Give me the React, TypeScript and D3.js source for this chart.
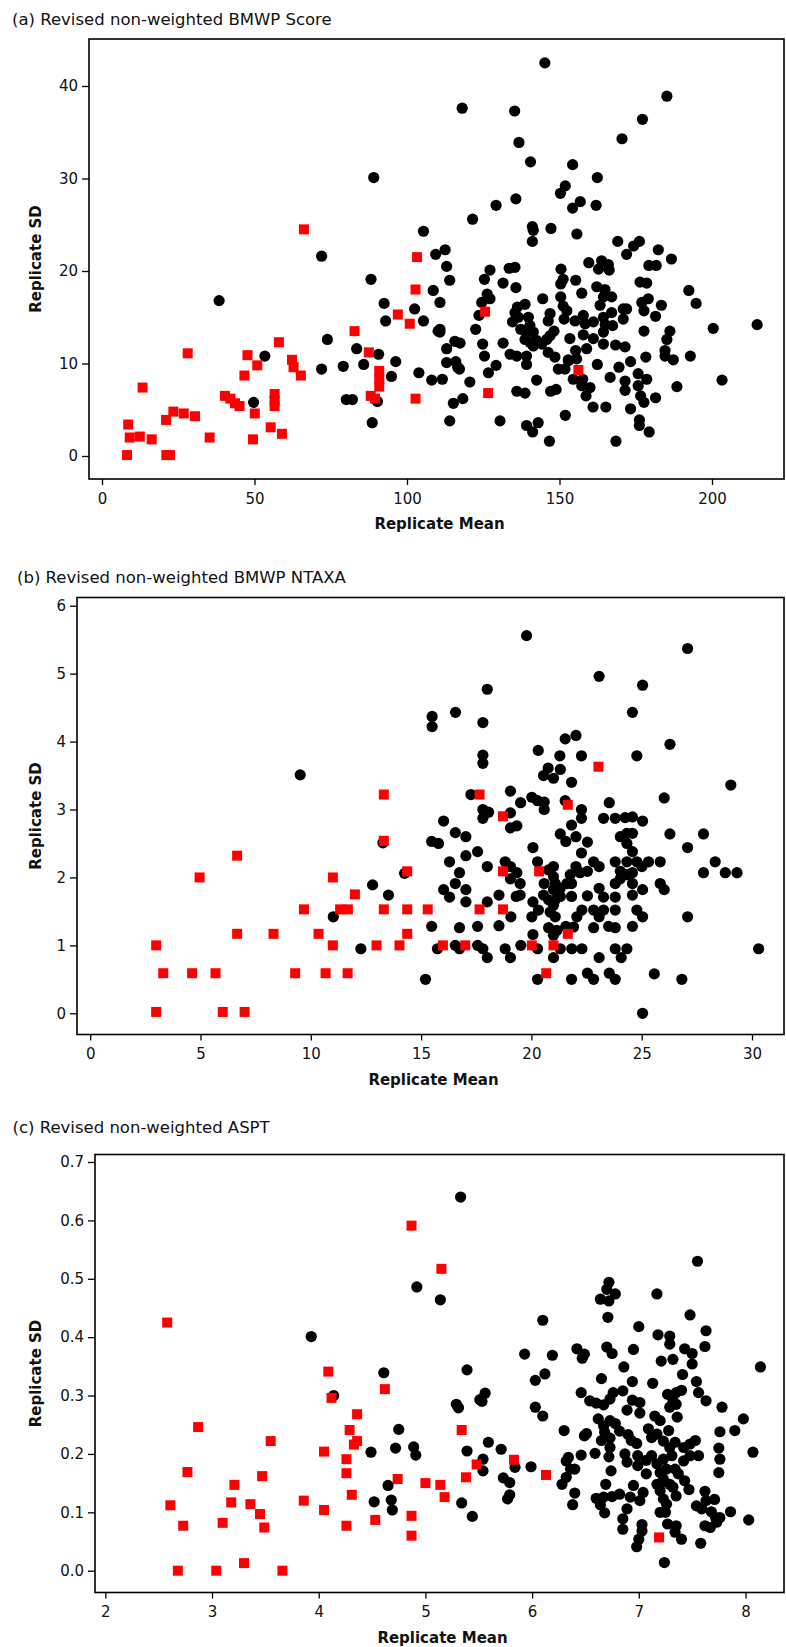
// @ts-nocheck
import React, { useEffect, useRef } from 'react'
import * as d3 from 'd3'

// ---- (a) BMWP score: [replicate mean, replicate SD]
const scoreRed = [
  [66.2, 24.5], [103.3, 21.5], [102.8, 18.0], [97.0, 15.3], [100.9, 14.3], [82.8, 13.5], [87.5, 11.2],
  [58.0, 12.3], [28.1, 11.1], [47.7, 10.9], [50.9, 9.8], [46.7, 8.7], [62.3, 10.4], [62.8, 9.6],
  [65.2, 8.7], [90.9, 9.2], [90.9, 8.3], [90.9, 7.5], [88.1, 6.5], [89.5, 6.2], [102.8, 6.2],
  [13.3, 7.4], [40.3, 6.5], [42.1, 6.2], [43.6, 5.7], [45.1, 5.4], [56.6, 6.7], [56.6, 6.0],
  [56.6, 5.4], [50.1, 4.6], [23.4, 4.8], [26.8, 4.6], [30.5, 4.3], [21.0, 3.9], [8.6, 3.4],
  [9.1, 2.0], [12.4, 2.1], [16.3, 1.8], [35.3, 2.0], [49.5, 1.8], [55.3, 3.1], [59.0, 2.4],
  [8.2, 0.1], [21.1, 0.1], [22.3, 0.1], [125.6, 15.6], [156.2, 9.3], [126.6, 6.8],
]
const scoreBlack = [
  [89.1, 30.1], [105.4, 24.3], [72.0, 21.6], [109.4, 21.8], [88.2, 19.1], [108.6, 17.9], [110.8, 16.6],
  [38.4, 16.8], [92.5, 16.5], [102.5, 15.9], [93.0, 14.6], [105.4, 14.6], [110.2, 13.5], [73.9, 12.6],
  [83.5, 11.6], [90.7, 11.0], [53.4, 10.8], [96.3, 10.2], [72.0, 9.4], [79.1, 9.7], [85.8, 9.9],
  [94.9, 8.6], [103.9, 9.0], [108.1, 8.2], [49.7, 5.8], [80.1, 6.1], [82.1, 6.1], [90.3, 5.9], [88.6, 3.6],
  [145.2, 42.5], [118.1, 37.6], [135.3, 37.3], [185.2, 38.9], [177.2, 36.4], [170.5, 34.3], [136.7, 33.9],
  [140.5, 31.8], [154.3, 31.5], [162.4, 30.1], [151.9, 29.2], [150.3, 28.4], [156.8, 27.5], [154.3, 26.8],
  [162.0, 27.1], [129.2, 27.1], [135.7, 27.8], [121.5, 25.6], [141.1, 24.8], [141.4, 24.4], [147.2, 24.6],
  [155.7, 24.0], [141.1, 23.2], [169.1, 23.2], [174.3, 22.7], [176.2, 23.2], [172.0, 21.8], [182.4, 22.3],
  [186.7, 21.3], [112.5, 22.3], [113.0, 20.5], [114.0, 19.0],
  [127.2, 20.1], [125.4, 19.1], [133.5, 20.3], [135.4, 20.4], [131.5, 18.7], [135.7, 18.2], [126.3, 17.5],
  [127.2, 17.0], [124.5, 16.6], [123.6, 15.2], [122.5, 13.7], [110.8, 13.7], [110.8, 13.4], [113.0, 11.6],
  [115.7, 12.4], [117.4, 12.2], [113.0, 10.1], [116.0, 10.2], [116.6, 9.6], [117.2, 9.4], [124.8, 12.1],
  [125.4, 10.8], [131.5, 12.2], [129.2, 9.8], [126.7, 9.0], [111.6, 8.3], [120.6, 8.0], [118.3, 6.2],
  [115.2, 5.7], [114.0, 3.8], [130.5, 3.8], [136.0, 7.0], [138.7, 6.8], [142.5, 8.2], [147.1, 7.0],
  [148.9, 7.2], [139.2, 3.3], [141.2, 2.6], [143.0, 3.6], [146.7, 1.6], [151.9, 4.4], [168.5, 1.6],
  [161.0, 5.3], [165.2, 5.3], [158.7, 6.5], [160.0, 7.4], [157.3, 7.6], [154.5, 8.3], [157.6, 8.3],
  [149.6, 9.4], [151.8, 9.4], [152.9, 10.4], [155.3, 11.4], [158.9, 11.6], [162.4, 9.9],
  [166.6, 8.5], [171.5, 8.1], [171.5, 7.1], [175.8, 8.9], [178.6, 8.3], [175.8, 7.6], [176.6, 6.5],
  [177.7, 5.8], [181.5, 6.3], [173.3, 5.1], [176.2, 3.9], [176.2, 3.3], [179.4, 2.6], [188.5, 7.5],
  [203.3, 8.2], [169.5, 9.6], [173.3, 10.2], [178.3, 10.7], [184.6, 11.4], [184.6, 10.8], [187.3, 10.4],
  [192.9, 10.8], [185.2, 12.6], [186.2, 13.5], [200.4, 13.8], [214.8, 14.2], [194.8, 16.5], [192.4, 17.9],
  [183.4, 16.3], [181.5, 15.1], [177.7, 13.5], [177.7, 15.7], [177.0, 16.6], [179.1, 17.0], [176.4, 18.8],
  [178.6, 18.7], [179.3, 20.6], [181.7, 20.6],
  [162.2, 18.3], [164.9, 18.0], [167.1, 17.2], [164.4, 17.2], [163.3, 16.3], [159.6, 20.9], [163.8, 21.1],
  [166.0, 20.7], [162.8, 20.2], [166.3, 20.1], [150.5, 20.2], [151.2, 19.1], [150.4, 18.6], [155.3, 19.0],
  [157.3, 17.6], [150.4, 17.2], [151.2, 16.2], [152.4, 15.7], [151.5, 14.8], [155.1, 14.6], [157.8, 15.2],
  [158.4, 14.3], [161.1, 14.5], [164.4, 15.0], [167.1, 15.5], [170.9, 15.9], [172.0, 15.9], [170.9, 14.8],
  [167.4, 14.1], [164.4, 13.4], [165.0, 14.2],
  [138.7, 16.4], [136.2, 16.1], [135.4, 15.5], [136.5, 15.0], [139.8, 15.0], [134.6, 14.5], [137.3, 13.7],
  [140.3, 14.1], [139.2, 13.4], [141.4, 13.4], [138.7, 12.6], [140.3, 12.3], [142.5, 12.5], [144.2, 12.1],
  [145.8, 12.6], [146.9, 13.0], [148.2, 13.5], [146.3, 14.6], [146.9, 15.4], [144.5, 17.0], [141.4, 11.9],
  [133.8, 11.0], [136.0, 10.8], [139.2, 10.8], [139.2, 9.9], [146.3, 11.2], [148.5, 10.7], [152.9, 10.3],
  [153.4, 12.7], [157.8, 13.1], [161.1, 12.7], [164.4, 12.1], [168.4, 12.0], [171.5, 11.8], [155.6, 10.5],
]

// ---- (b) BMWP NTAXA
const ntaxaRed = [
  [2.99, 0.02], [2.99, 1.0], [3.31, 0.59], [4.62, 0.59], [5.68, 0.59], [4.96, 2.0], [6.66, 2.32],
  [6.66, 1.17], [6.01, 0.02], [7.0, 0.02], [8.31, 1.17], [9.29, 0.59], [9.69, 1.53], [10.35, 1.17],
  [10.67, 0.59], [11.0, 2.0], [11.0, 1.0], [11.33, 1.53], [11.68, 1.53], [11.67, 0.59], [12.0, 1.75],
  [13.31, 3.22], [13.31, 2.54], [13.31, 1.53], [12.98, 1.0], [14.02, 1.0], [14.37, 2.09], [14.37, 1.53],
  [14.37, 1.17], [15.3, 1.53], [17.65, 3.22], [18.71, 2.9], [21.65, 3.07], [23.04, 3.63], [18.71, 2.09],
  [20.35, 2.09], [17.65, 1.53], [18.71, 1.53], [21.65, 1.17], [15.99, 1.0], [17.0, 1.0], [20.02, 1.0],
  [21.0, 1.0], [20.67, 0.59],
]
const ntaxaBlack = [
  [9.52, 3.51], [13.27, 2.51], [14.25, 2.06], [12.8, 1.89], [13.52, 1.74], [11.02, 1.42], [12.27, 0.95],
  [15.2, 0.5], [19.78, 5.56], [27.08, 5.37], [23.07, 4.96], [25.04, 4.83], [18.0, 4.77], [15.5, 4.37],
  [15.5, 4.22], [16.56, 4.43], [17.8, 4.28], [24.58, 4.43], [21.53, 4.04], [22.02, 4.09], [26.28, 3.96],
  [20.31, 3.87], [21.29, 3.79], [22.27, 3.79], [24.78, 3.79], [17.8, 3.8], [17.8, 3.68], [20.76, 3.61],
  [21.31, 3.59], [20.55, 3.5], [21.0, 3.46], [21.82, 3.4], [29.04, 3.36], [17.26, 3.22], [19.05, 3.27],
  [19.51, 3.1], [20.02, 3.18], [20.28, 3.13], [20.58, 3.11], [20.58, 3.0], [21.53, 3.13], [23.53, 3.1],
  [26.02, 3.17], [22.27, 3.0], [22.27, 2.87], [17.8, 3.0], [18.06, 2.96], [17.8, 2.87], [19.05, 2.95],
  [23.27, 2.87], [23.8, 2.87], [24.25, 2.88], [24.58, 2.89], [25.04, 2.83], [16.02, 2.83], [19.05, 2.73],
  [19.34, 2.76], [21.82, 2.77], [21.31, 2.64], [21.56, 2.53], [22.02, 2.6], [22.54, 2.52], [24.03, 2.6],
  [24.33, 2.65], [24.58, 2.65], [24.33, 2.5], [24.58, 2.38], [26.28, 2.64], [27.8, 2.64], [27.08, 2.44],
  [16.55, 2.66], [17.03, 2.6], [15.48, 2.53], [15.79, 2.5], [17.56, 2.38], [17.03, 2.32], [20.07, 2.44],
  [22.27, 2.36], [16.29, 2.23], [18.0, 2.16], [18.81, 2.23], [19.05, 2.16], [19.34, 2.07], [19.05, 1.98],
  [19.49, 1.91], [20.28, 2.23], [21.0, 2.16], [22.02, 2.16], [22.82, 2.23], [23.07, 2.16], [23.8, 2.23],
  [24.33, 2.23], [24.78, 2.23], [25.31, 2.23], [25.84, 2.23], [20.78, 2.11], [21.0, 2.01], [21.76, 2.04],
  [22.21, 2.07], [22.54, 2.09], [24.03, 2.09], [24.33, 2.04], [24.58, 2.07], [24.03, 1.98], [25.01, 2.16],
  [16.74, 2.07], [16.55, 1.91], [17.03, 1.82], [16.02, 1.82], [16.29, 1.71], [20.58, 1.91], [21.08, 1.91],
  [21.61, 1.91], [21.82, 1.91], [21.31, 1.84], [21.0, 1.82], [23.8, 1.91], [24.58, 1.91], [25.04, 1.82],
  [25.84, 1.91], [26.02, 1.82], [23.07, 1.84], [23.27, 1.71], [23.8, 1.71], [22.54, 1.73], [21.82, 1.72],
  [24.58, 1.74], [20.55, 1.74], [20.78, 1.67], [21.08, 1.67], [21.31, 1.72], [21.0, 1.59], [19.31, 1.72],
  [19.49, 1.74], [18.53, 1.74], [18.0, 1.64], [17.03, 1.64], [20.07, 1.64], [20.32, 1.52], [20.02, 1.42],
  [20.85, 1.49], [21.08, 1.42], [22.06, 1.42], [22.29, 1.52], [22.82, 1.52], [23.07, 1.42], [23.27, 1.52],
  [23.8, 1.52], [24.78, 1.52], [25.04, 1.42], [19.07, 1.42], [27.08, 1.42], [15.48, 1.28], [16.74, 1.26],
  [17.56, 1.28], [18.53, 1.29], [20.78, 1.26], [21.15, 1.22], [21.56, 1.28], [21.91, 1.27], [21.0, 1.15],
  [22.82, 1.26], [23.5, 1.28], [23.8, 1.26], [24.58, 1.28], [20.07, 1.16], [15.74, 0.95], [16.55, 1.0],
  [16.74, 0.95], [17.56, 1.0], [17.8, 0.95], [18.0, 0.82], [18.81, 0.95], [19.05, 0.82], [19.52, 1.0],
  [20.28, 0.95], [21.0, 0.82], [21.31, 0.95], [21.83, 0.95], [22.29, 0.95], [23.07, 0.82], [23.8, 0.95],
  [24.07, 0.82], [24.33, 0.95], [30.3, 0.95], [20.28, 0.5], [21.82, 0.5], [22.54, 0.59], [22.82, 0.5],
  [23.53, 0.59], [23.8, 0.5], [25.57, 0.58], [26.82, 0.5], [25.04, 0.0], [28.33, 2.23], [27.8, 2.07],
  [28.79, 2.07], [29.32, 2.07],
]

// ---- (c) ASPT
const asptRed = [
  [2.58, 0.425], [4.87, 0.591], [5.15, 0.517], [4.09, 0.341], [4.12, 0.296], [4.62, 0.311], [4.36, 0.268],
  [4.29, 0.241], [4.36, 0.222], [4.33, 0.216], [4.05, 0.204], [4.26, 0.191], [4.26, 0.167], [4.31, 0.13],
  [4.05, 0.104], [4.26, 0.077], [3.86, 0.12], [4.53, 0.087], [4.74, 0.157], [4.87, 0.094], [4.87, 0.06],
  [5.0, 0.15], [5.14, 0.147], [5.18, 0.126], [2.87, 0.246], [2.77, 0.169], [2.61, 0.112], [2.73, 0.077],
  [3.55, 0.222], [3.47, 0.162], [3.21, 0.147], [3.18, 0.117], [3.36, 0.114], [3.45, 0.097], [3.49, 0.074],
  [3.1, 0.082], [3.04, 0], [3.3, 0.013], [3.66, 0], [2.68, 0], [5.34, 0.241], [5.48, 0.182], [5.38, 0.16],
  [5.83, 0.19], [6.13, 0.164], [7.19, 0.057],
]
const asptBlack = [
  [3.93, 0.401], [4.92, 0.486], [5.14, 0.464], [4.61, 0.339], [4.14, 0.3], [4.75, 0.242], [4.72, 0.21],
  [4.89, 0.212], [4.91, 0.198], [4.49, 0.203], [4.65, 0.146], [4.52, 0.118], [4.68, 0.121], [4.69, 0.104],
  [5.33, 0.64], [7.55, 0.53], [6.72, 0.494], [6.7, 0.482], [6.78, 0.474], [6.64, 0.465], [6.72, 0.462],
  [6.71, 0.434], [7.17, 0.474], [7.48, 0.438], [7.63, 0.411], [7.0, 0.418], [7.18, 0.404], [7.29, 0.402],
  [7.29, 0.388], [7.62, 0.384], [6.1, 0.429], [5.93, 0.371], [6.19, 0.369], [6.42, 0.38], [6.49, 0.371],
  [6.47, 0.364], [6.7, 0.383], [6.75, 0.372], [6.95, 0.379], [6.86, 0.349], [7.21, 0.359], [7.32, 0.362],
  [7.43, 0.38], [7.5, 0.372], [7.5, 0.354], [5.39, 0.344], [6.12, 0.337], [6.03, 0.326], [6.65, 0.329],
  [6.94, 0.324], [7.13, 0.321], [7.41, 0.336], [7.54, 0.324], [8.14, 0.349], [5.56, 0.304], [5.51, 0.293],
  [5.53, 0.29], [5.29, 0.285], [5.31, 0.279], [6.03, 0.28], [6.1, 0.265], [6.46, 0.305], [6.54, 0.291],
  [6.6, 0.287], [6.67, 0.284], [6.73, 0.294], [6.76, 0.305], [6.85, 0.308], [6.94, 0.292], [7.01, 0.288],
  [6.89, 0.275], [7.01, 0.27], [7.27, 0.302], [7.35, 0.305], [7.32, 0.291], [7.29, 0.28], [7.35, 0.285],
  [7.4, 0.309], [7.56, 0.305], [7.63, 0.291], [7.78, 0.28], [7.36, 0.263], [7.15, 0.265], [7.2, 0.257],
  [7.98, 0.26], [7.9, 0.24], [7.76, 0.238], [6.3, 0.24], [6.49, 0.231], [6.51, 0.235], [6.62, 0.26],
  [6.67, 0.248], [6.73, 0.257], [6.78, 0.252], [6.68, 0.237], [6.73, 0.227], [6.65, 0.223], [6.82, 0.239],
  [6.9, 0.233], [6.93, 0.223], [6.98, 0.218], [7.09, 0.243], [7.12, 0.228], [7.17, 0.234], [7.23, 0.222],
  [7.28, 0.24], [7.34, 0.22], [7.29, 0.211], [7.42, 0.211], [7.48, 0.217], [7.53, 0.223], [7.48, 0.197],
  [7.56, 0.197], [7.75, 0.21], [7.76, 0.191], [7.75, 0.168], [8.07, 0.203], [5.39, 0.205], [5.59, 0.22],
  [5.71, 0.208], [5.54, 0.191], [5.54, 0.171], [5.84, 0.177], [5.99, 0.178], [5.73, 0.159], [5.79, 0.151],
  [5.79, 0.13], [5.77, 0.123], [5.34, 0.116], [5.44, 0.093], [6.46, 0.198], [6.59, 0.201], [6.34, 0.194],
  [6.32, 0.188], [6.36, 0.174], [6.4, 0.174], [6.32, 0.16], [6.28, 0.148], [6.4, 0.133], [6.38, 0.113],
  [6.73, 0.211], [6.72, 0.195], [6.74, 0.171], [6.69, 0.148], [6.87, 0.2], [6.89, 0.186], [6.99, 0.197],
  [6.99, 0.18], [7.07, 0.189], [7.12, 0.197], [7.17, 0.183], [7.23, 0.191], [7.26, 0.174], [7.2, 0.168],
  [7.34, 0.174], [7.37, 0.166], [7.31, 0.197], [7.42, 0.188], [7.07, 0.166], [7.23, 0.157], [7.29, 0.148],
  [7.43, 0.154], [7.2, 0.148], [6.95, 0.146], [7.04, 0.134], [7.01, 0.12], [6.92, 0.126], [6.82, 0.131],
  [6.75, 0.127], [6.67, 0.126], [6.6, 0.124], [6.64, 0.113], [6.68, 0.099], [6.89, 0.106], [6.85, 0.089],
  [6.85, 0.071], [7.17, 0.148], [7.2, 0.137], [7.23, 0.123], [7.26, 0.114], [7.25, 0.1], [7.2, 0.1],
  [7.32, 0.143], [7.35, 0.128], [7.47, 0.139], [7.62, 0.136], [7.63, 0.12], [7.71, 0.122], [7.54, 0.111],
  [7.59, 0.106], [7.68, 0.101], [7.72, 0.091], [7.76, 0.091], [7.73, 0.083], [7.62, 0.077], [7.67, 0.074],
  [7.86, 0.101], [8.03, 0.087], [7.27, 0.08], [7.35, 0.077], [7.34, 0.066], [7.4, 0.054], [7.03, 0.079],
  [7.03, 0.068], [7.0, 0.054], [6.98, 0.041], [7.58, 0.047], [7.24, 0.014],
]

// tick labels
const scoreXTicks = [0, 50, 100, 150, 200]
const scoreYTicks = [0, 10, 20, 30, 40]
const ntaxaXTicks = [0, 5, 10, 15, 20, 25, 30]
const ntaxaYTicks = [0, 1, 2, 3, 4, 5, 6]
const asptXTicks = [2, 3, 4, 5, 6, 7, 8]
const asptYTicks = [0, 0.1, 0.2, 0.3, 0.4, 0.5, 0.6, 0.7]

const FONT = '"DejaVu Sans", Verdana, sans-serif'

const panels = [
  {
    title: '(a) Revised non-weighted BMWP Score', titleX: 12, titleY: 25,
    frame: [89, 39, 784, 479], xDomain: [0, 200], xRange: [102, 712], yDomain: [0, 40], yRange: [456, 86],
    xTicks: scoreXTicks, yTicks: scoreYTicks, yFormat: d3.format('d'), labelY: 529,
    black: scoreBlack, red: scoreRed,
  },
  {
    title: '(b) Revised non-weighted BMWP NTAXA', titleX: 17, titleY: 582.5,
    frame: [77, 597.5, 784, 1034.5], xDomain: [0, 30], xRange: [90.2, 752], yDomain: [0, 6], yRange: [1013.3, 605.7],
    xTicks: ntaxaXTicks, yTicks: ntaxaYTicks, yFormat: d3.format('d'), labelY: 1085,
    black: ntaxaBlack, red: ntaxaRed,
  },
  {
    title: '(c) Revised non-weighted ASPT', titleX: 12.5, titleY: 1133,
    frame: [95, 1154.5, 784, 1592.5], xDomain: [2, 8], xRange: [105.3, 745.5], yDomain: [0, 0.7], yRange: [1570.7, 1162],
    xTicks: asptXTicks, yTicks: asptYTicks, yFormat: d3.format('.1f'), labelY: 1643,
    black: asptBlack, red: asptRed,
  },
]

const Panel = ({ cfg }) => {
  const ref = useRef(null)

  useEffect(() => {
    const g = d3.select(ref.current)
    g.selectAll('*').remove()
    const [left, top, right, bottom] = cfg.frame
    const x = d3.scaleLinear().domain(cfg.xDomain).range(cfg.xRange)
    const y = d3.scaleLinear().domain(cfg.yDomain).range(cfg.yRange)

    g.append('text')
      .attr('x', cfg.titleX)
      .attr('y', cfg.titleY)
      .attr('font-family', FONT)
      .attr('font-size', 16.5)
      .attr('fill', '#111')
      .text(cfg.title)

    // x axis below the frame
    const xg = g
      .append('g')
      .attr('transform', `translate(0,${bottom})`)
      .call(d3.axisBottom(x).tickValues(cfg.xTicks).tickSize(6).tickPadding(8).tickFormat(d3.format('d')))
    xg.select('.domain').remove()
    xg.attr('font-family', FONT).attr('font-size', 15)
    xg.selectAll('line').attr('stroke', '#000').attr('stroke-width', 1.3)
    xg.selectAll('text').attr('fill', '#111')

    // y axis left of the frame
    const yg = g
      .append('g')
      .attr('transform', `translate(${left},0)`)
      .call(d3.axisLeft(y).tickValues(cfg.yTicks).tickSize(7).tickPadding(4).tickFormat(cfg.yFormat))
    yg.select('.domain').remove()
    yg.attr('font-family', FONT).attr('font-size', 15)
    yg.selectAll('line').attr('stroke', '#000').attr('stroke-width', 1.3)
    yg.selectAll('text').attr('fill', '#111')

    g.append('rect')
      .attr('x', left)
      .attr('y', top)
      .attr('width', right - left)
      .attr('height', bottom - top)
      .attr('fill', 'none')
      .attr('stroke', '#000')
      .attr('stroke-width', 1.6)

    g.append('g')
      .selectAll('circle')
      .data(cfg.black)
      .join('circle')
      .attr('cx', (d) => x(d[0]))
      .attr('cy', (d) => y(d[1]))
      .attr('r', 5.6)
      .attr('fill', '#000')

    g.append('g')
      .selectAll('rect')
      .data(cfg.red)
      .join('rect')
      .attr('x', (d) => x(d[0]) - 5)
      .attr('y', (d) => y(d[1]) - 5)
      .attr('width', 10)
      .attr('height', 10)
      .attr('fill', '#ff0000')

    g.append('text')
      .attr('x', (left + right) / 2 + 3)
      .attr('y', cfg.labelY)
      .attr('text-anchor', 'middle')
      .attr('font-family', FONT)
      .attr('font-weight', 'bold')
      .attr('font-size', 15)
      .attr('fill', '#111')
      .text('Replicate Mean')

    g.append('text')
      .attr('transform', `translate(40.5,${(top + bottom) / 2}) rotate(-90)`)
      .attr('text-anchor', 'middle')
      .attr('font-family', FONT)
      .attr('font-weight', 'bold')
      .attr('font-size', 15)
      .attr('fill', '#111')
      .text('Replicate SD')
  }, [cfg])

  return <g ref={ref} />
}

export default function App() {
  return (
    <svg
      width={786}
      height={1647}
      style={{ position: 'absolute', left: 0, top: 0, background: '#fff' }}
    >
      {panels.map((p) => (
        <Panel key={p.title} cfg={p} />
      ))}
    </svg>
  )
}
